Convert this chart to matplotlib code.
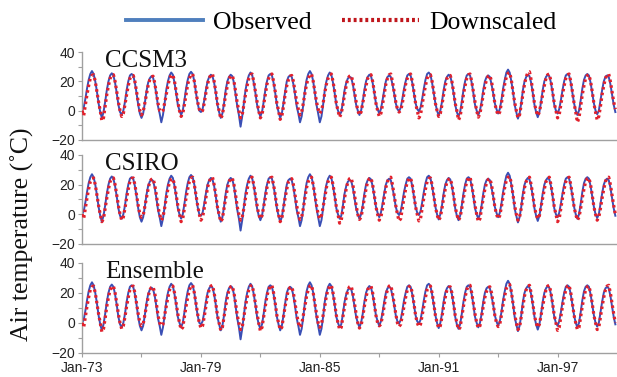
import numpy as np
import matplotlib.pyplot as plt
from matplotlib.lines import Line2D

# monthly values, one row per year (1973-1999)
observed = [
    [0, 2, 8, 15, 21, 25, 27, 25, 20, 13, 5, -1],
    [-5, -1, 6, 14, 20, 24, 25.5, 24, 19, 12, 4, -1],
    [-3, 0, 6, 14, 20, 24, 25, 24, 19, 12, 4, -2],
    [-5, -2, 5, 13, 19, 22, 23.5, 22.5, 18, 11, 3, -2],
    [-8, -3, 5, 14, 20, 24, 26, 24.5, 19, 12, 4, 0],
    [-3, 0, 7, 15, 21, 25, 26.5, 25, 20, 12, 5, 0],
    [-1, 1, 7, 14, 20, 23, 24.5, 23.5, 19, 12, 4, -1],
    [-5, -2, 5, 14, 20, 23, 24.5, 23.5, 19, 11, 3, -3],
    [-11, -4, 5, 14, 20, 24, 26, 24.5, 19, 12, 4, -1],
    [-4, -1, 6, 14, 20, 24, 25, 24, 19, 12, 4, -1],
    [-5, -2, 5, 13, 20, 23, 24, 23, 18, 11, 3, -2],
    [-8, -4, 4, 14, 21, 25, 27, 25, 20, 12, 4, -2],
    [-8, -4, 4, 14, 20, 24, 26, 24.5, 19, 12, 4, 0],
    [-3, -1, 6, 14, 19, 22, 23, 22.5, 18, 11, 4, 0],
    [-3, 0, 6, 14, 20, 23, 24.5, 23.5, 19, 12, 5, 1],
    [-2, 1, 7, 14, 20, 23, 24, 23, 18, 12, 5, 1],
    [-0.5, 2, 8, 15, 20, 24, 25, 24, 19, 12, 5, 1],
    [-0.5, 2, 8, 15, 21, 25, 26, 24.5, 19, 12, 5, 0],
    [-3.5, 0, 6, 14, 20, 23, 24.5, 23.5, 19, 12, 4, -1],
    [-4, -1, 6, 14, 20, 24, 25, 24, 19, 12, 4, 0],
    [-3, 0, 6, 14, 20, 23, 24, 23, 18, 12, 5, 1],
    [-2, 1, 7, 15, 21, 26, 28, 26, 20, 13, 4, -1],
    [-5.5, -2, 5, 14, 20, 23, 24.5, 23.5, 19, 12, 4, -1],
    [-4.5, -1, 6, 14, 20, 23, 24.5, 23.5, 19, 12, 4, 0],
    [-2, 1, 7, 14, 20, 24, 25, 24, 19, 12, 5, 0],
    [-3, 0, 7, 15, 21, 24, 25, 24, 19, 12, 5, 0],
    [-2.5, 0, 7, 14, 20, 23, 24, 23, 18, 11, 4, -1],
]

ccsm3 = [
    [0, -3.5, 4, 11, 17, 22, 24, 24.5, 20, 13, 6, 0],
    [-7, -5, 3, 11, 17, 22, 24, 24.5, 20, 13, 6, 0],
    [-4, -2, 4, 11, 17, 22, 23.5, 24, 20, 13, 6, 0],
    [-3, -1, 5, 11, 17, 21, 23, 23.5, 19, 12, 5, 0],
    [-1, 0, 5, 11, 17, 22, 24, 24.5, 20, 13, 6, 0],
    [-4, -2, 4, 11, 18, 22, 24.5, 25, 20, 13, 6, 1],
    [-1, 0, 5, 12, 18, 22, 24.5, 25, 20, 13, 5, 0],
    [-5.5, -3, 4, 11, 17, 22, 23.5, 24, 20, 13, 5, 0],
    [-5, -3, 4, 11, 17, 22, 24.5, 25, 20, 13, 6, 0],
    [-5, -3, 4, 11, 18, 22, 24.5, 25, 20, 13, 5, 0],
    [-6, -4, 3, 11, 17, 21, 23.5, 24, 20, 13, 6, 1],
    [-3, -1, 5, 12, 18, 22, 24.5, 25, 20, 13, 6, 1],
    [-2, 0, 5, 12, 18, 22, 24.5, 25, 20, 13, 5, 0],
    [-4.5, -2, 4, 11, 17, 22, 23.5, 24, 20, 13, 6, 0],
    [-3, -1, 5, 11, 17, 22, 24, 24.5, 20, 13, 5, 0],
    [-4, -2, 4, 11, 18, 22, 24.5, 25, 20, 13, 6, 1],
    [-1, 0, 5, 12, 18, 22, 24.5, 25, 20, 13, 5, 0],
    [-5, -3, 4, 11, 17, 22, 24, 24.5, 20, 13, 5, 0],
    [-4, -2, 4, 11, 17, 22, 23.5, 24, 20, 13, 5, 0],
    [-6.5, -4, 3, 11, 17, 22, 24.5, 25, 20, 13, 6, 0],
    [-4.5, -2, 4, 11, 17, 21, 23.5, 24, 20, 13, 5, 0],
    [-3, -1, 5, 12, 18, 23, 25.5, 26, 21, 13, 6, 0],
    [-5, -3, 4, 11, 18, 23, 26, 26.5, 21, 13, 5, 0],
    [-3.5, -1, 5, 11, 17, 22, 24.5, 25, 20, 13, 5, 0],
    [-5, -3, 4, 11, 17, 22, 24.5, 25, 20, 13, 5, -1],
    [-8, -5, 3, 11, 17, 22, 24, 24.5, 20, 13, 5, -1],
    [-6.5, -4, 3, 11, 17, 22, 24.5, 25, 20, 13, 6, 1],
]

csiro = [
    [0, -3, 4, 11, 17, 22, 24, 24.5, 20, 13, 6, 0],
    [-5, -3, 4, 11, 17, 22, 24, 24.5, 20, 13, 6, 0],
    [-4, -2, 4, 11, 17, 22, 24, 24.5, 20, 13, 6, 0],
    [-2, -1, 5, 11, 17, 22, 23.5, 24, 20, 13, 5, 0],
    [-4, -2, 4, 11, 17, 22, 23.5, 24, 20, 13, 6, 0],
    [-5, -3, 4, 11, 17, 22, 24.5, 25, 20, 13, 6, 0],
    [-4, -2, 4, 11, 18, 22, 24.5, 25, 20, 13, 5, 0],
    [-5, -3, 4, 11, 17, 22, 24, 24.5, 20, 13, 5, 0],
    [-4, -2, 4, 11, 17, 22, 24.5, 25, 20, 13, 6, 0],
    [-3, -1, 5, 11, 18, 22, 24.5, 25, 20, 13, 5, 0],
    [-5, -3, 4, 11, 17, 22, 23.5, 24, 20, 13, 6, 0],
    [-3.5, -2, 4, 11, 18, 22, 24.5, 25, 20, 13, 6, 0],
    [-3, -1, 5, 11, 18, 22, 24.5, 25, 20, 13, 5, 0],
    [-6, -4, 3, 11, 17, 22, 24, 24.5, 20, 13, 6, 0],
    [-3.5, -2, 4, 11, 17, 22, 24, 24.5, 20, 13, 5, 0],
    [-4, -2, 4, 11, 18, 22, 24.5, 25, 20, 13, 6, 0],
    [-4.5, -3, 4, 11, 17, 22, 24, 24.5, 20, 13, 5, 0],
    [-4.5, -3, 4, 11, 17, 22, 24, 24.5, 20, 13, 5, 0],
    [-4, -2, 4, 11, 17, 22, 23.5, 24, 20, 13, 5, 0],
    [-4, -2, 4, 11, 17, 22, 24.5, 25, 20, 13, 6, 0],
    [-5, -3, 4, 11, 17, 21, 23.5, 24, 20, 13, 5, 0],
    [-3, -1, 5, 12, 18, 23, 25, 25.5, 21, 13, 6, 0],
    [-4, -2, 4, 11, 18, 22, 24.5, 25, 20, 13, 5, 0],
    [-3, -1, 5, 11, 17, 22, 24.5, 25, 20, 13, 5, 0],
    [-5, -3, 4, 11, 17, 22, 24.5, 25, 20, 13, 5, 0],
    [-4, -2, 4, 11, 17, 22, 24, 24.5, 20, 13, 5, 0],
    [-4, -2, 4, 11, 17, 22, 24.5, 25, 20, 13, 6, 0],
]

ensemble = [
    [0, -3, 4, 11, 17, 22, 24, 24.5, 20, 13, 6, 0],
    [-6, -4, 3, 11, 17, 22, 24, 24.5, 20, 13, 6, 0],
    [-4, -2, 4, 11, 17, 22, 24, 24.5, 20, 13, 6, 0],
    [-2, -1, 5, 11, 17, 22, 23.5, 24, 20, 13, 5, 0],
    [-2, -1, 5, 11, 17, 22, 24, 24.5, 20, 13, 6, 0],
    [-4.5, -3, 4, 11, 17, 22, 24.5, 25, 20, 13, 6, 0],
    [-3.5, -2, 4, 11, 18, 22, 24.5, 25, 20, 13, 5, 0],
    [-5, -3, 4, 11, 17, 22, 24, 24.5, 20, 13, 5, 0],
    [-4.5, -3, 4, 11, 17, 22, 24.5, 25, 20, 13, 6, 0],
    [-5.5, -3, 4, 11, 18, 22, 24.5, 25, 20, 13, 5, 0],
    [-4.5, -3, 4, 11, 17, 22, 23.5, 24, 20, 13, 6, 0],
    [-3, -1, 5, 11, 18, 22, 24.5, 25, 20, 13, 6, 0],
    [-3, -1, 5, 11, 18, 22, 24.5, 25, 20, 13, 5, 0],
    [-4.5, -3, 4, 11, 17, 22, 24, 24.5, 20, 13, 6, 0],
    [-3.5, -2, 4, 11, 17, 22, 24, 24.5, 20, 13, 5, 0],
    [-2, -1, 5, 11, 18, 22, 24.5, 25, 20, 13, 6, 0],
    [-2.5, -1, 5, 11, 17, 22, 24, 24.5, 20, 13, 5, 0],
    [-2.5, -1, 5, 11, 17, 22, 24, 24.5, 20, 13, 5, 0],
    [-3.5, -2, 4, 11, 17, 22, 23.5, 24, 20, 13, 5, 0],
    [-4.5, -3, 4, 11, 17, 22, 24.5, 25, 20, 13, 6, 0],
    [-3.5, -2, 4, 11, 17, 21, 23.5, 24, 20, 13, 5, 0],
    [-2.5, -1, 5, 12, 18, 23, 25, 25.5, 21, 13, 6, 0],
    [-4.5, -3, 4, 11, 18, 22, 24.5, 25, 20, 13, 5, 0],
    [-3, -1, 5, 11, 17, 22, 24.5, 25, 20, 13, 5, 0],
    [-5, -3, 4, 11, 17, 22, 24.5, 25, 20, 13, 5, 0],
    [-4.5, -3, 4, 11, 17, 22, 24, 24.5, 20, 13, 5, 0],
    [-4.5, -3, 4, 11, 17, 22, 24.5, 25, 20, 13, 6, 0],
]

panel_names = ['CCSM3', 'CSIRO', 'Ensemble']
tick_years = [1973, 1976, 1979, 1982, 1985, 1988, 1991, 1994, 1997]
tick_labels = ['Jan-73', '', 'Jan-79', '', 'Jan-85', '', 'Jan-91', '', 'Jan-97']

first_year = 1973
obs = np.array(observed).ravel()
t = first_year + np.arange(len(obs)) / 12.0

serif = ['Liberation Serif', 'DejaVu Serif']
plt.rcParams['font.family'] = ['Liberation Sans', 'DejaVu Sans']

blue = '#3a4fb5'
red = '#e2202b'
grey = '#a0a0a0'

fig = plt.figure(figsize=(6.17, 3.77), dpi=100)
boxes = [(0.133, 0.629, 0.867, 0.233),
         (0.133, 0.353, 0.867, 0.236),
         (0.133, 0.064, 0.867, 0.239)]

for box, name, ds in zip(boxes, panel_names, [ccsm3, csiro, ensemble]):
    ax = fig.add_axes(box)
    ax.plot(t, obs, color=blue, lw=1.4, zorder=2)
    ax.plot(t, np.array(ds).ravel(), color=red, lw=2.3,
            linestyle=(0, (0.8, 1.0)), zorder=3)
    ax.set_ylim(-20, 40)
    ax.set_xlim(first_year, 2000)
    ax.set_yticks([-20, 0, 20, 40])
    ax.set_yticks([-10, 10, 30], minor=True)
    for s in ['top', 'right']:
        ax.spines[s].set_visible(False)
    for s in ['left', 'bottom']:
        ax.spines[s].set_color(grey)
        ax.spines[s].set_linewidth(1.0)
    ax.tick_params(axis='y', which='both', colors=grey, labelcolor='#222222',
                   labelsize=10, length=3, width=0.8, pad=2)
    ax.text(0.043, 0.9, name, transform=ax.transAxes, family=serif,
            fontsize=18, va='center', ha='left', color='#111111')
    if name == 'Ensemble':
        ax.set_xticks(tick_years)
        ax.set_xticklabels(tick_labels)
        ax.tick_params(axis='x', colors=grey, labelcolor='#222222',
                       labelsize=10, length=3, width=0.8, pad=3)
    else:
        ax.set_xticks([])

fig.text(0.036, 0.379, 'Air temperature (˚C)', rotation=90, family=serif,
         fontsize=18.5, ha='center', va='center', color='#111111')

handles = [Line2D([], [], color='#4f7fbd', lw=2.8),
           Line2D([], [], color='#c0161c', lw=3.0, linestyle=(0, (0.7, 0.7)))]
fig.legend(handles, ['Observed', 'Downscaled'], loc='center',
           bbox_to_anchor=(0.553, 0.94), ncol=2, frameon=False,
           prop={'family': serif, 'size': 18.5}, handlelength=3.0,
           handletextpad=0.4, columnspacing=1.15)

fig.savefig('out.png', dpi=100)
